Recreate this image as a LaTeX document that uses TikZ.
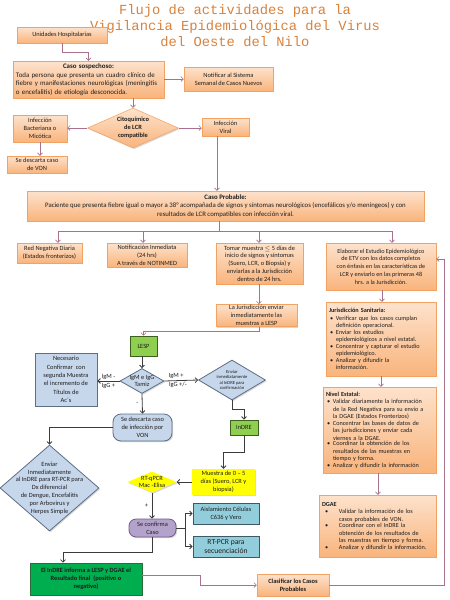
\documentclass[tikz,border=0pt]{standalone}
\usepackage{fontspec}
\setmainfont{Carlito}
\newfontfamily\titlefont{Liberation Mono}
\usetikzlibrary{shapes.geometric,arrows.meta,shadows}
\definecolor{otop}{HTML}{FDE2CC}
\definecolor{obot}{HTML}{F9B47C}
\definecolor{oline}{HTML}{F2A262}
\definecolor{conn}{HTML}{A8728E}
\definecolor{kcol}{HTML}{3C3C3C}
\definecolor{txt}{HTML}{1E1E1E}
\definecolor{tcol}{HTML}{D9823B}
\definecolor{bfill}{HTML}{C6D6EB}
\definecolor{bline}{HTML}{5E6E84}
\definecolor{gfill}{HTML}{8FCF4F}
\definecolor{gline}{HTML}{3F5F1F}
\definecolor{dgfill}{HTML}{00AE50}
\definecolor{dgline}{HTML}{2E6B3A}
\definecolor{yfill}{HTML}{FFFF00}
\definecolor{pfill}{HTML}{B3A3CB}
\definecolor{pline}{HTML}{6F5A8E}
\definecolor{cfill}{HTML}{92CDDC}
\definecolor{cline}{HTML}{3E5866}
\newcommand\ft{\fontsize{6.4}{7.8}\selectfont}
\newcommand\ftt{\fontsize{4.6}{5.6}\selectfont}
\newcommand\ttlfont{\fontsize{13.8}{16}\titlefont}
\newcommand\bitem[2][96pt]{\par\noindent\hspace*{1pt}\makebox[6pt][l]{\textbullet}\parbox[t]{#1}{\raggedright #2}}
\newcommand\ditem[1]{\par\noindent\hspace*{3pt}\makebox[14pt][l]{\textbullet}\parbox[t]{92pt}{\raggedright #1}}
\tikzset{
  wh/.style 2 args={minimum width=#1pt, minimum height=#2pt},
  base/.style={align=center, inner sep=1pt, font=\ft, text=txt,
    drop shadow={shadow xshift=1.2pt, shadow yshift=-1.2pt, opacity=0.3}},
  obox/.style={base, rectangle, draw=oline, line width=0.5pt, top color=otop, bottom color=obot},
  odia/.style={base, diamond, draw=oline, line width=0.5pt, top color=otop, bottom color=obot},
  bbox/.style={base, rectangle, draw=bline, line width=0.8pt, fill=bfill},
  bdia/.style={base, diamond, draw=bline, line width=0.8pt, fill=bfill},
  gbox/.style={base, rectangle, draw=gline, line width=0.8pt, fill=gfill},
  lbl/.style={align=center, font=\ft, text=txt, inner sep=0pt},
  oline/.style={draw=conn, line width=0.6pt},
  oarr/.style={oline, -{Straight Barb[length=2.5pt,width=5pt]}},
  kline/.style={draw=kcol, line width=0.8pt},
  karr/.style={kline, -{Straight Barb[length=2.5pt,width=5pt]}},
  elab/.style={font=\ft, text=txt, inner sep=1.5pt},
  ttl/.style={font=\ttlfont, align=center}
}
\begin{document}
\begin{tikzpicture}[x=1pt,y=-1pt]
\useasboundingbox[fill=white] (0,0) rectangle (450,600);
% title
\node[ttl, text=tcol] (title) at (235,26)
  {Flujo de actividades para la\\Vigilancia Epidemiológica del Virus\\del Oeste del Nilo};
% top part
\node[obox, wh={90}{16}] (uh) at (62,35) {Unidades Hospitalarias};
\node[obox, wh={151}{37}, text width=145pt, align=left, font=\fontsize{6.9}{8.6}\selectfont] (cs) at (88.5,79.5)
  {\makebox[145pt]{\textbf{Caso sospechoso:}}\\Toda persona que presenta un cuadro clínico de\\fiebre y manifestaciones neurológicas (meningitis\\o encefalitis) de etiología desconocida.};
\node[obox, wh={89}{24}] (nt) at (228.5,79) {Notificar al Sistema\\Semanal de Casos Nuevos};
\node[odia, wh={91}{40}, label={[lbl, font=\ft\bfseries]center:Citoquímico\\de LCR\\compatible}] (d1) at (133,128) {};
\node[obox, wh={54}{27}] (ib) at (40,128.5) {Infección\\Bacteriana o\\Micótica};
\node[obox, wh={60}{17}] (sd1) at (37,164.5) {Se descarta caso\\de VON};
\node[obox, wh={47}{18}] (iv) at (225.5,127) {Infección\\Viral};
\node[obox, wh={397}{30}, font=\fontsize{6.8}{8.2}\selectfont] (cp) at (225.5,206)
  {\textbf{Caso Probable:}\\Paciente que presenta fiebre igual o mayor a 38° acompañada de signos y síntomas neurológicos (encefálicos y/o meníngeos) y con\\resultados de LCR compatibles con infección viral.};
% second row
\node[obox, wh={65}{20}] (rn) at (49.5,253) {Red Negativa Diaria\\(Estados fronterizos)};
\node[obox, wh={80}{24}] (ni) at (147,255) {Notificación Inmediata\\(24 hrs)\\A través de NOTINMED};
\node[obox, wh={87}{41}] (tm) at (259.5,263.5) {Tomar muestra $\leq$ 5 días de\\inicio de signos y síntomas\\(Suero, LCR, o Biopsia) y\\enviarlas a la Jurisdicción\\dentro de 24 hrs.};
\node[obox, wh={110}{47}, font=\fontsize{6.2}{7.8}\selectfont] (el) at (381,266.5) {Elaborar el Estudio Epidemiológico\\de ETV con los datos completos\\con énfasis en las características de\\LCR y enviarlo en las primeras 48\\hrs. a la Jurisdicción.};
\node[obox, wh={81}{21}] (lj) at (256.5,315.5) {La Jurisdicción enviar\\inmediatamente las\\muestras a LESP};
% right column
\node[obox, wh={110}{74}, text width=104pt, align=left, font=\fontsize{6.2}{7.6}\selectfont] (js) at (381,339)
  {\textbf{Jurisdicción Sanitaria:}
   \bitem{Verificar que los casos cumplan\\definición operacional.}
   \bitem{Enviar los estudios\\epidemiológicos a nivel estatal.}
   \bitem{Concentrar y capturar el estudio\\epidemiológico.}
   \bitem{Analizar y difundir la\\información.}};
\node[obox, wh={113}{86}, text width=107pt, align=left, font=\fontsize{6.2}{7.6}\selectfont] (ne) at (379.5,430)
  {\textbf{Nivel Estatal:}
   \bitem[100pt]{Validar diariamente la información\\de la Red Negativa para su envío a\\la DGAE (Estados Fronterizos)}
   \bitem[100pt]{Concentrar las bases de datos de\\las jurisdicciones y enviar cada\\viernes a la DGAE.}
   \bitem[100pt]{Coordinar la obtención de los\\resultados de las muestras en\\tiempo y forma.}
   \bitem[100pt]{Analizar y difundir la información}};
\node[obox, wh={117}{62}, text width=111pt, align=left, font=\fontsize{6.2}{7.6}\selectfont] (dg) at (377.5,526)
  {\textbf{DGAE}
   \ditem{Validar la información de los\\casos probables de VON.}
   \ditem{Coordinar con el InDRE la\\obtención de los resultados de\\las muestras en tiempo y forma.}
   \ditem{Analizar y difundir la información.}};
% lab part
\node[gbox, wh={27}{20}] (lesp) at (143.5,346) {LESP};
\node[bdia, wh={44}{25}, label={[lbl]center:IgM e IgG\\Tamiz}] (d2) at (142,381) {};
\node[bbox, wh={62}{53}, font=\fontsize{6.4}{8.4}\selectfont] (nec) at (66,379.5) {Necesario\\Confirmar\ \ con\\segunda Muestra\\el incremento de\\Títulos de\\Ac´s};
\node[bdia, wh={67}{40}, label={[lbl, font=\ftt]center:Enviar\\inmediatamente\\al InDRE para\\confirmación}] (d3) at (232,380) {};
\node[gbox, wh={28}{15}] (indre) at (244,427.5) {InDRE};
\node[bbox, wh={59}{27}, rounded corners=8pt] (sd2) at (142.5,427.5) {Se descarta caso\\de infección por\\VON};
\node[bdia, wh={99}{86}, label={[lbl]center:Enviar\\Inmediatamente\\al InDRE para RT-PCR para\\Dx diferencial\\de Dengue, Encefalitis\\por Arbovirus y\\Herpes Simple}] (d4) at (49.5,488) {};
\node[base, rectangle, fill=yfill, wh={63}{26}] (mu) at (223.5,482) {Muestra de 0 – 5\\días (Suero, LCR y\\biopsia)};
\node[base, diamond, fill=yfill, wh={49}{21}, label={[lbl]center:RT-qPCR\\Mac -Elisa}] (d5) at (152,482) {};
\node[base, rectangle, rounded corners=7pt, draw=pline, line width=0.8pt, fill=pfill, wh={47}{18}] (sc) at (152.5,528) {Se confirma\\Caso};
\node[base, rectangle, draw=cline, line width=0.8pt, fill=cfill, wh={66}{21}] (ai) at (226,513.5) {Aislamiento Células\\C636 y Vero};
\node[base, rectangle, draw=cline, line width=0.8pt, fill=cfill, wh={66}{21}, font=\fontsize{7.6}{8.4}\selectfont] (rt) at (226,546.5) {RT-PCR para\\secuenciación};
\node[base, rectangle, draw=dgline, line width=0.6pt, fill=dgfill, wh={112}{32}, font=\ft\bfseries] (gr) at (86,579) {El InDRE informa a LESP y DGAE el\\Resultado final\ \ (positivo o\\negativo)};
\node[obox, wh={72}{22}, font=\ft\bfseries] (cl) at (293,585) {Clasificar los Casos\\Probables};
% coordinates
\coordinate (bus) at (219,231);
\coordinate (b1) at (58,231);
\coordinate (b2) at (143,231);
\coordinate (b3) at (259,231);
\coordinate (b4) at (392,231);
\coordinate (sp) at (185,528);
\coordinate (g0) at (63,552);
\coordinate (g1) at (200,575);
\coordinate (fb) at (444,259);
% orange connectors
\draw[oarr] (uh.south) -- ++(0,9) -| (cs.north);
\draw[oarr] (cs.east |- nt.west) -- (nt.west);
\draw[oarr] (cs.south -| d1.north) -- (d1.north);
\draw[oarr] (d1.west) -- (d1.west -| ib.east);
\draw[oarr] (ib.south) -- (ib.south |- sd1.north);
\draw[oarr] (d1.east) -- (d1.east -| iv.west);
\draw[oarr] ([xshift=-8.5pt]iv.south) -- ([xshift=-8.5pt]iv.south |- cp.north);
\draw[oline] (cp.south -| bus) -- (bus);
\draw[oline] (b1) -- (b4);
\draw[oarr] (b1) -- (b1 |- rn.north);
\draw[oarr] (b2) -- (b2 |- ni.north);
\draw[oarr] (b3) -- (b3 |- tm.north);
\draw[oarr] (b4) -- (b4 |- el.north);
\draw[oarr] (tm.south -| b3) -- (b3 |- lj.north);
\draw[oarr] (lj.south -| b3) -- ++(0,4) -| (lesp.north);
\draw[oarr] ([xshift=1pt]el.south) -- ([xshift=1pt]el.south |- js.north);
\draw[oarr] (js.south) -- (js.south |- ne.north);
\draw[oarr] ([xshift=-1.5pt]ne.south) -- ([xshift=-1.5pt]ne.south |- dg.north);
\draw[oarr] (gr.east |- g1) -- (g1) |- (cl.west);
\draw[oarr] (cl.east) -| (fb) -- (fb -| el.east);
% dark connectors
\draw[karr] (lesp.south -| d2.north) -- (d2.north);
\draw[karr] (d2.west) -- node[elab, above]{IgM -} node[elab, below]{IgG +} (d2.west -| nec.east);
\draw[karr] (d2.east) -- node[elab, above, pos=0.35]{IgM +} node[elab, below, pos=0.4]{IgG +/-} (d3.west);
\draw[karr] (d2.south) -- node[elab, left=2pt]{-} (sd2.north);
\draw[karr] (d3.south) -- ++(0,9) -| (indre.north);
\draw[karr] (sd2.west) -| (d4.north);
\draw[karr] (indre.south) -- ++(0,17) -| (mu.north);
\draw[karr] (mu.west) -- (d5.east);
\draw[karr] (d5.south) -- node[elab, left=2pt]{+} (d5.south |- sc.north);
\draw[kline] (sc.east) -- (sp);
\draw[karr] (sp) |- (ai.west);
\draw[karr] (sp) |- (rt.west);
\draw[karr] (sc.south) |- (g0) -- (g0 |- gr.north);
\end{tikzpicture}
\end{document}
